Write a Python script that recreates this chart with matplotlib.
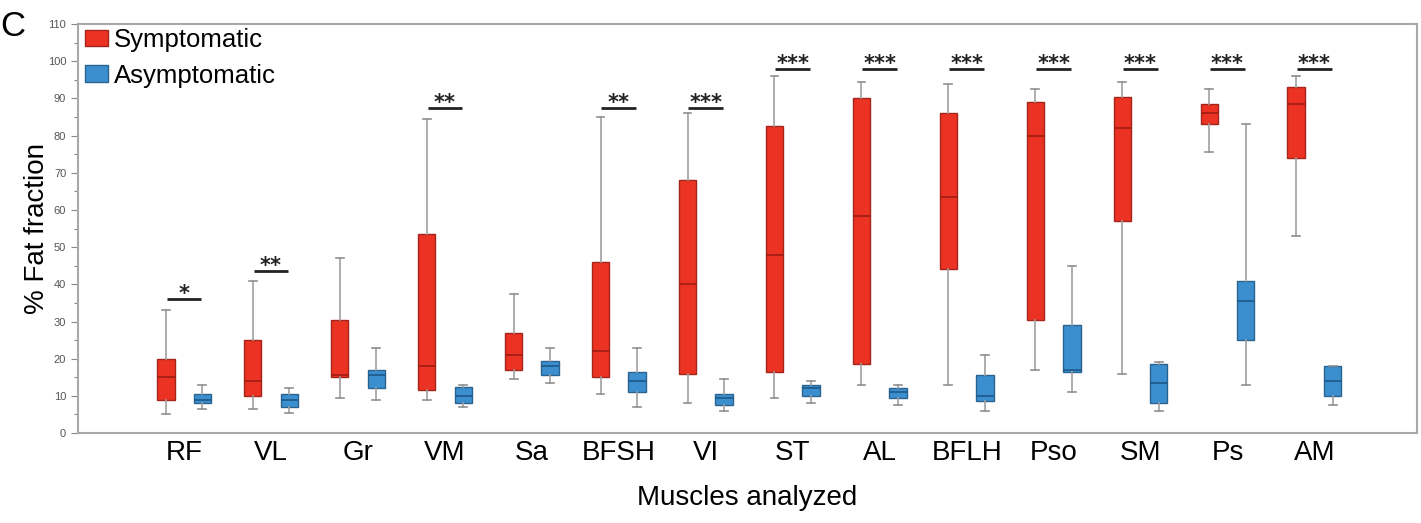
import numpy as np
import matplotlib
matplotlib.use("Agg")
import matplotlib.pyplot as plt
from matplotlib.patches import Patch

plt.rcParams["font.family"] = ["Liberation Sans", "DejaVu Sans"]

muscles = ["RF", "VL", "Gr", "VM", "Sa", "BFSH", "VI", "ST", "AL", "BFLH", "Pso", "SM", "Ps", "AM"]

# symptomatic: whisker low, q1, median, q3, whisker high
sym_lo = [5, 6.5, 9.5, 9, 14.5, 10.5, 8, 9.5, 13, 13, 17, 16, 75.5, 53]
sym_q1 = [9, 10, 15, 11.5, 17, 15, 16, 16.3, 18.5, 44, 30.5, 57, 83, 74]
sym_med = [15, 14, 15.5, 18, 21, 22, 40, 48, 58.5, 63.5, 80, 82, 86, 88.5]
sym_q3 = [20, 25, 30.5, 53.5, 27, 46, 68, 82.6, 90, 86, 89, 90.5, 88.5, 93]
sym_hi = [33, 41, 47, 84.5, 37.5, 85, 86, 96, 94.5, 94, 92.5, 94.5, 92.5, 96]

# asymptomatic
asy_lo = [6.5, 5.5, 9, 7, 13.5, 7, 6, 8, 7.5, 6, 11, 6, 13, 7.5]
asy_q1 = [8, 7, 12, 8, 15.5, 11, 7.5, 10, 9.5, 8.5, 16.5, 8, 25, 10]
asy_med = [9, 9, 15.5, 10, 18, 14, 9.5, 12, 11, 10, 17, 13.5, 35.5, 14]
asy_q3 = [10.5, 10.5, 17, 12.5, 19.5, 16.5, 10.5, 13, 12, 15.5, 29, 18.5, 41, 18]
asy_hi = [13, 12, 23, 13, 23, 23, 14.5, 14, 13, 21, 45, 19, 83, 18]

sig_labels = ["*", "**", "", "**", "", "**", "***", "***", "***", "***", "***", "***", "***", "***"]
sig_heights = [36, 43.6, 0, 87.3, 0, 87.5, 87.5, 98, 98, 98, 98, 98, 98, 98]

RED, RED_EDGE, RED_MED = "#ec3323", "#a3241a", "#9e1c12"
BLUE, BLUE_EDGE, BLUE_MED = "#3c8fcf", "#2a6390", "#1d5887"

def stats(lo, q1, med, q3, hi):
    return [dict(whislo=a, q1=b, med=c, q3=d, whishi=e, fliers=[])
            for a, b, c, d, e in zip(lo, q1, med, q3, hi)]

fig = plt.figure(figsize=(14.21, 5.23), dpi=100)
ax = fig.add_axes([0.0549, 0.172, 0.9423, 0.782])

x = np.arange(len(muscles))
off = 0.21
w = 0.2

for st, pos, fc, ec, mc in [
    (stats(sym_lo, sym_q1, sym_med, sym_q3, sym_hi), x - off, RED, RED_EDGE, RED_MED),
    (stats(asy_lo, asy_q1, asy_med, asy_q3, asy_hi), x + off, BLUE, BLUE_EDGE, BLUE_MED),
]:
    ax.bxp(st, positions=pos, widths=w, capwidths=0.09, patch_artist=True, showfliers=False,
           boxprops=dict(facecolor=fc, edgecolor=ec, linewidth=1.0),
           medianprops=dict(color=mc, linewidth=1.2),
           whiskerprops=dict(color="#a0a0a0", linewidth=1.2),
           capprops=dict(color="#909090", linewidth=1.2),
           manage_ticks=False, zorder=3)

for i, (lab, h) in enumerate(zip(sig_labels, sig_heights)):
    if not lab:
        continue
    ax.plot([i - 0.2, i + 0.2], [h, h], color="#222222", lw=2, solid_capstyle="butt", zorder=4)
    ax.text(i, h - 1.3, lab, ha="center", va="bottom", fontsize=15, fontweight="bold",
            color="#222222", family="DejaVu Sans")

ax.set_xlim(-1.22, 13 + 1.18)
ax.set_ylim(0, 110)
ax.set_xticks(x)
ax.set_xticklabels(muscles, fontsize=20)
ax.tick_params(axis="x", length=0, pad=5)
ax.set_yticks(np.arange(0, 111, 10))
ax.set_yticks(np.arange(5, 110, 10), minor=True)
ax.tick_params(axis="y", which="both", direction="out", length=5, width=0.8,
               color="#888888", labelsize=8, labelcolor="#555555")
ax.tick_params(axis="y", which="minor", length=3)
for sp in ax.spines.values():
    sp.set_color("#a8a8a8")
    sp.set_linewidth(1.5)

ax.set_xlabel("Muscles analyzed", fontsize=20, labelpad=14)
ax.set_ylabel("% Fat fraction", fontsize=20, labelpad=-2)

handles = [Patch(facecolor=RED, edgecolor=RED_EDGE), Patch(facecolor=BLUE, edgecolor=BLUE_EDGE)]
ax.legend(handles, ["Symptomatic", "Asymptomatic"], loc="upper left", frameon=False,
          fontsize=18.5, handlelength=0.9, handleheight=0.6, handletextpad=0.25,
          labelspacing=0.45, borderpad=0, borderaxespad=0, bbox_to_anchor=(0.005, 0.99))

fig.text(0.0, 0.98, "C", fontsize=25, ha="left", va="top")

fig.savefig("out.png", dpi=100)
print("done")
